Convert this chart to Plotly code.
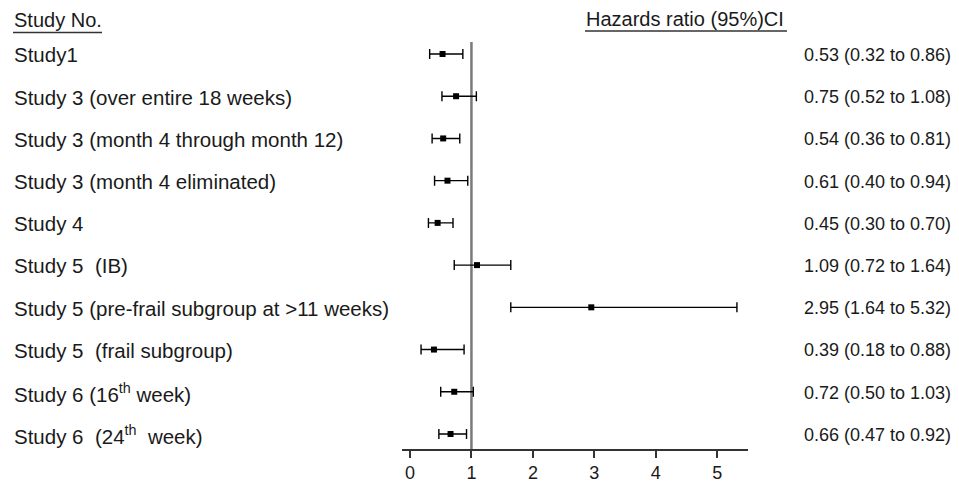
import plotly.graph_objects as go

studies = [
    "Study1",
    "Study 3 (over entire 18 weeks)",
    "Study 3 (month 4 through month 12)",
    "Study 3 (month 4 eliminated)",
    "Study 4",
    "Study 5\u00a0 (IB)",
    "Study 5 (pre-frail subgroup at >11 weeks)",
    "Study 5\u00a0 (frail subgroup)",
    "Study 6 (16<sup>th</sup> week)",
    "Study 6\u00a0 (24<sup>th</sup>\u00a0 week)",
]
hr = [0.53, 0.75, 0.54, 0.61, 0.45, 1.09, 2.95, 0.39, 0.72, 0.66]
ci_low = [0.32, 0.52, 0.36, 0.40, 0.30, 0.72, 1.64, 0.18, 0.50, 0.47]
ci_high = [0.86, 1.08, 0.81, 0.94, 0.70, 1.64, 5.32, 0.88, 1.03, 0.92]
x_ticks = [0, 1, 2, 3, 4, 5]
left_header = "Study No."
right_header = "Hazards ratio (95%)CI"
reference_value = 1

ci_text = [f"{m:.2f} ({lo:.2f} to {hi:.2f})" for m, lo, hi in zip(hr, ci_low, ci_high)]
rows = list(range(len(studies)))

# page body has an 8px default margin; lay the figure out in window pixels minus that
OFF = 8
W, H = 959 - OFF, 483 - OFF
ML = 402 - OFF
MR = W - (748 - OFF)
MT = 0
MB = H - (449 - OFF)
ROW0_PX, ROWN_PX = 54 - OFF, 434 - OFF
unit = (ROWN_PX - ROW0_PX) / (len(studies) - 1)
y_top = -ROW0_PX / unit
y_bot = (len(studies) - 1) + (H - MB - ROWN_PX) / unit


def ypx(px):
    """window pixel y -> data y"""
    return y_top + (px - OFF) / unit


def xpaper(px):
    """window pixel x -> paper x"""
    return (px - OFF - ML) / (W - ML - MR)


FONT = "Liberation Sans, Arial, sans-serif"
TXT = "#1a1a1a"

fig = go.Figure()
fig.add_trace(go.Scatter(
    x=hr, y=rows, mode="markers",
    marker=dict(symbol="square", size=6, color="black"),
    error_x=dict(type="data", symmetric=False,
                 array=[h - m for h, m in zip(ci_high, hr)],
                 arrayminus=[m - l for m, l in zip(hr, ci_low)],
                 color="black", thickness=1.4, width=5),
    showlegend=False, hoverinfo="skip",
))

shapes = [
    dict(type="line", xref="x", yref="y", x0=reference_value, x1=reference_value,
         y0=ypx(42), y1=y_bot, line=dict(color="#7a7a7a", width=2.5), layer="below"),
    dict(type="line", xref="paper", yref="y", x0=xpaper(13), x1=xpaper(102),
         y0=ypx(32.5), y1=ypx(32.5), line=dict(color="#333", width=1.3)),
    dict(type="line", xref="paper", yref="y", x0=xpaper(585), x1=xpaper(787),
         y0=ypx(31), y1=ypx(31), line=dict(color="#333", width=1.3)),
]

annotations = []
annotations.append(dict(text=left_header, xref="paper", yref="y", x=xpaper(12), y=ypx(20),
                        xanchor="left", yanchor="middle", showarrow=False,
                        font=dict(family=FONT, size=20, color=TXT)))
annotations.append(dict(text=right_header, xref="paper", yref="y", x=xpaper(584), y=ypx(19),
                        xanchor="left", yanchor="middle", showarrow=False,
                        font=dict(family=FONT, size=20, color=TXT)))
for i, s in enumerate(studies):
    annotations.append(dict(text=s, xref="paper", yref="y", x=xpaper(12), y=i + 0.02,
                            xanchor="left", yanchor="middle", showarrow=False,
                            font=dict(family=FONT, size=20.5, color=TXT)))
    annotations.append(dict(text=ci_text[i], xref="paper", yref="y", x=xpaper(802), y=i + 0.02,
                            xanchor="left", yanchor="middle", showarrow=False,
                            font=dict(family=FONT, size=18, color=TXT)))

fig.update_layout(
    width=W, height=H,
    margin=dict(l=ML, r=MR, t=MT, b=MB),
    paper_bgcolor="white", plot_bgcolor="white",
    shapes=shapes, annotations=annotations,
    xaxis=dict(range=[-0.13, 5.5], tickvals=x_ticks, showgrid=False, zeroline=False,
               showline=True, linecolor="#333", linewidth=1.5,
               ticks="outside", ticklen=7, tickwidth=1.5, tickcolor="#333",
               tickfont=dict(family=FONT, size=18, color=TXT)),
    yaxis=dict(range=[y_bot, y_top], showgrid=False, zeroline=False, showline=False,
               showticklabels=False, ticks=""),
)

fig.write_html("out.html")
